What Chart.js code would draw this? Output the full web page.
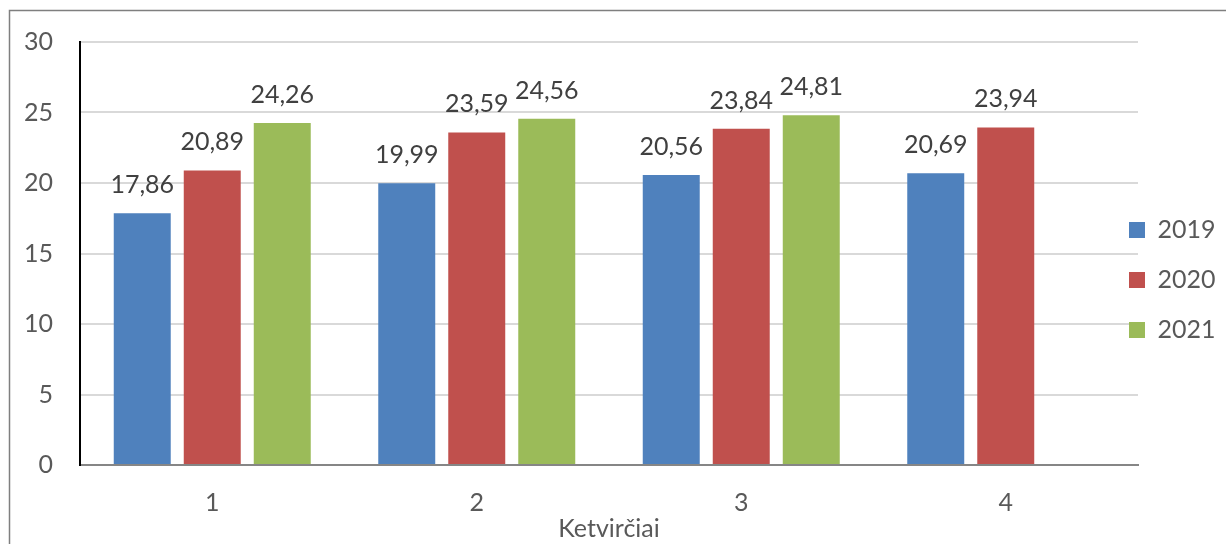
<!DOCTYPE html>
<html>
<head>
<meta charset="utf-8">
<script src="https://cdn.jsdelivr.net/npm/chart.js@4/dist/chart.umd.min.js"></script>
<style>
  html, body { margin: 0; padding: 0; background: #ffffff; }
  #wrap { width: 1226px; height: 544px; position: relative; }
</style>
</head>
<body>
<div id="wrap"><canvas id="c" width="1226" height="544"></canvas></div>
<script>
const categories = ['1', '2', '3', '4'];
const seriesNames = ['2019', '2020', '2021'];
const values2019 = [17.86, 19.99, 20.56, 20.69];
const values2020 = [20.89, 23.59, 23.84, 23.94];
const values2021 = [24.26, 24.56, 24.81, null];
const seriesColors = ['#4f81bd', '#c0504d', '#9bbb59'];
const axisTitle = 'Ketvirčiai';

const FONT = 'Lato';
const FS = 25;
const TEXT = '#595959';

const frame = {
  id: 'frame',
  beforeDraw(chart) {
    const ctx = chart.ctx;
    ctx.save();
    ctx.fillStyle = '#ffffff';
    ctx.fillRect(0, 0, chart.width, chart.height);
    ctx.strokeStyle = '#7f7f7f';
    ctx.lineWidth = 1.5;
    ctx.strokeRect(9.5, 10.5, chart.width + 20, chart.height + 20);
    ctx.restore();
  }
};

const moveLegend = {
  id: 'moveLegend',
  afterLayout(chart) {
    const l = chart.legend;
    if (!l) return;
    l.left = 1104; l.right = 1226; l.width = 122;
    l.top = 16; l.bottom = 544; l.height = 528;
  }
};

const valueLabels = {
  id: 'valueLabels',
  afterDatasetsDraw(chart) {
    const ctx = chart.ctx;
    ctx.save();
    ctx.font = FS + 'px ' + FONT;
    ctx.fillStyle = '#404040';
    ctx.textAlign = 'center';
    ctx.textBaseline = 'alphabetic';
    chart.data.datasets.forEach((ds, di) => {
      const meta = chart.getDatasetMeta(di);
      meta.data.forEach((el, i) => {
        const v = ds.data[i];
        if (v === null || v === undefined) return;
        ctx.fillText(v.toFixed(2).replace('.', ','), el.x, el.y - 20);
      });
    });
    ctx.restore();
  }
};

new Chart(document.getElementById('c'), {
  type: 'bar',
  data: {
    labels: categories,
    datasets: [
      { label: seriesNames[0], data: values2019, backgroundColor: seriesColors[0] },
      { label: seriesNames[1], data: values2020, backgroundColor: seriesColors[1] },
      { label: seriesNames[2], data: values2021, backgroundColor: seriesColors[2] }
    ]
  },
  options: {
    responsive: false,
    animation: false,
    devicePixelRatio: 1,
    layout: { padding: { top: 42, right: 0, bottom: 0, left: 0 } },
    datasets: { bar: { categoryPercentage: 0.794, barPercentage: 0.814 } },
    plugins: {
      legend: {
        position: 'right',
        maxWidth: 88,
        labels: {
          boxWidth: 16, boxHeight: 16, padding: 25,
          color: TEXT,
          font: { family: FONT, size: FS }
        }
      },
      tooltip: { enabled: false }
    },
    scales: {
      x: {
        grid: { display: false, drawTicks: false },
        border: { display: true, color: '#868686', width: 2 },
        ticks: { color: TEXT, font: { family: FONT, size: FS }, padding: 23 },
        title: { display: true, text: axisTitle, color: TEXT, font: { family: FONT, size: FS }, padding: { top: 0, bottom: 0 } },
        afterFit(scale) { scale.height = 79; }
      },
      y: {
        min: 0, max: 30,
        grid: { color: '#d9d9d9', lineWidth: 2, drawTicks: false },
        border: { display: true, color: '#000000', width: 2 },
        ticks: { stepSize: 5, color: TEXT, font: { family: FONT, size: FS }, padding: 27 },
        afterFit(scale) { scale.width = 80; }
      }
    }
  },
  plugins: [frame, moveLegend, valueLabels]
});
</script>
</body>
</html>
